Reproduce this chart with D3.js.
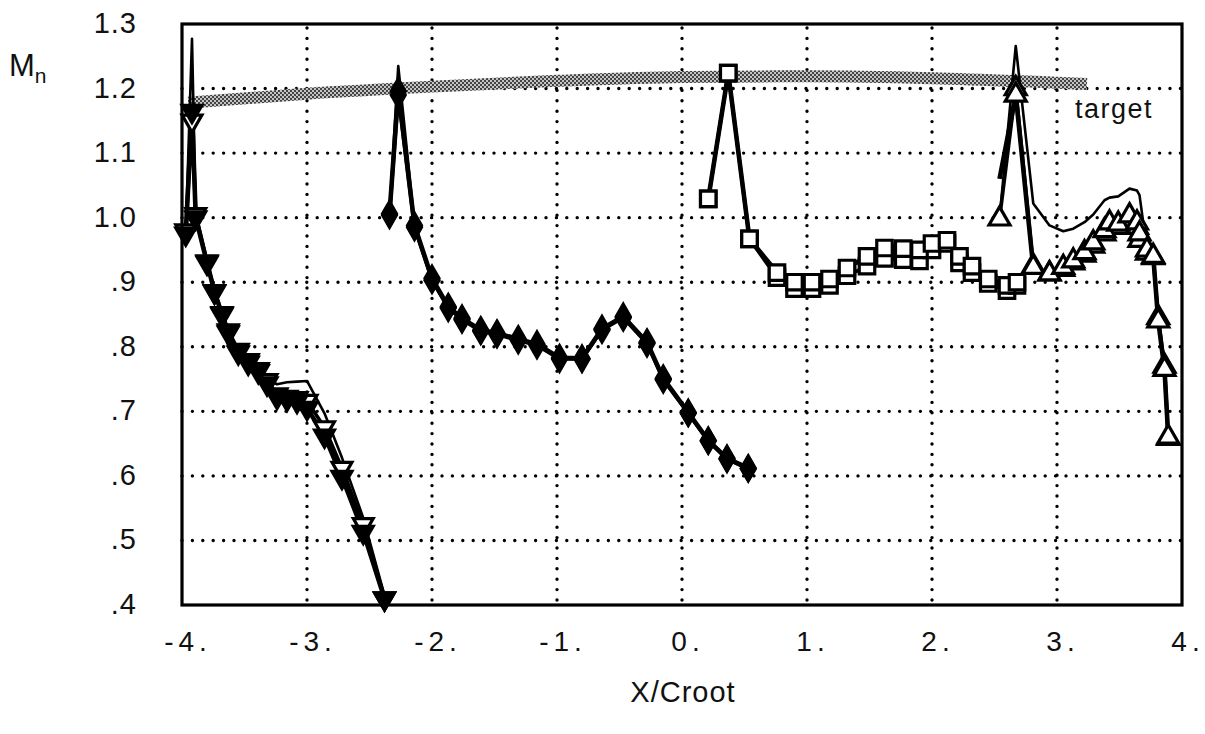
<!DOCTYPE html>
<html>
<head>
<meta charset="utf-8">
<script src="https://cdn.jsdelivr.net/npm/d3@7/dist/d3.min.js"></script>
<style>
  html, body { margin: 0; padding: 0; background: #fff; }
  svg { display: block; }
  text { font-family: "Liberation Sans", Arial, Helvetica, sans-serif; fill: #111; }
</style>
</head>
<body>
<svg id="chart" width="1205" height="734"></svg>
<script>
// ---- tick data ----
const xTicks = [-4, -3, -2, -1, 0, 1, 2, 3, 4];
const xTickLabels = ["-4.", "-3.", "-2.", "-1.", "0.", "1.", "2.", "3.", "4."];
const yTicks = [0.4, 0.5, 0.6, 0.7, 0.8, 0.9, 1.0, 1.1, 1.2, 1.3];
const yTickLabels = [".4", ".5", ".6", ".7", ".8", ".9", "1.0", "1.1", "1.2", "1.3"];
const xGrid = [-3, -2, -1, 0, 1, 2, 3];
const yGrid = [0.5, 0.6, 0.7, 0.8, 0.9, 1.0, 1.1, 1.2];

// ---- target band ----
const targetX = [-3.95, -3, -2, -1, 0, 1, 2, 3, 3.24];
const targetM = [1.178, 1.192, 1.203, 1.212, 1.218, 1.219, 1.216, 1.209, 1.207];

// ---- section 1 (down triangles) ----
const s1X = [-3.97, -3.92, -3.89, -3.80, -3.74, -3.68, -3.63, -3.55, -3.47, -3.39, -3.32, -3.24, -3.16, -3.08, -3.0, -2.86, -2.72, -2.55, -2.38];
const s1A = [0.975, 1.165, 1.0, 0.93, 0.885, 0.85, 0.822, 0.791, 0.775, 0.762, 0.743, 0.722, 0.719, 0.716, 0.705, 0.662, 0.598, 0.513, 0.41];
const s1B = [0.98, 1.15, 1.005, 0.932, 0.886, 0.852, 0.825, 0.795, 0.779, 0.765, 0.748, 0.726, 0.722, 0.72, 0.716, 0.675, 0.612, 0.525, 0.41];
const s1C = [0.975, 1.277, 1.0, 0.93, 0.885, 0.85, 0.822, 0.793, 0.778, 0.766, 0.75, 0.742, 0.745, 0.746, 0.747, 0.697, 0.628, 0.535, 0.415];

// ---- section 2 (diamonds) ----
const s2X = [-2.34, -2.27, -2.14, -2.0, -1.87, -1.76, -1.61, -1.48, -1.31, -1.16, -0.98, -0.8, -0.64, -0.47, -0.28, -0.15, 0.05, 0.21, 0.36, 0.53];
const s2A = [1.006, 1.196, 0.988, 0.906, 0.862, 0.844, 0.826, 0.821, 0.812, 0.804, 0.783, 0.782, 0.828, 0.847, 0.807, 0.751, 0.698, 0.655, 0.627, 0.612];
const s2B = [1.004, 1.19, 0.985, 0.903, 0.86, 0.842, 0.824, 0.819, 0.81, 0.802, 0.781, 0.781, 0.826, 0.845, 0.805, 0.749, 0.697, 0.654, 0.626, 0.611];
const s2C = [1.006, 1.235, 0.99, 0.906, 0.862, 0.844, 0.826, 0.821, 0.812, 0.804, 0.783, 0.782, 0.828, 0.848, 0.808, 0.752, 0.699, 0.656, 0.628, 0.613];

// ---- section 3 (squares) ----
const s3X = [0.21, 0.37, 0.54, 0.76, 0.9, 1.04, 1.18, 1.32, 1.48, 1.62, 1.77, 1.9, 2.0, 2.12, 2.22, 2.32, 2.45, 2.6, 2.68];
const s3A = [1.029, 1.224, 0.967, 0.915, 0.9, 0.9, 0.905, 0.922, 0.94, 0.953, 0.952, 0.95, 0.96, 0.965, 0.94, 0.925, 0.905, 0.895, 0.9];
const s3B = [1.029, 1.224, 0.967, 0.907, 0.89, 0.89, 0.895, 0.91, 0.925, 0.937, 0.935, 0.933, 0.95, 0.96, 0.93, 0.915, 0.898, 0.887, 0.895];
const s3C = [1.029, 1.224, 0.967, 0.912, 0.896, 0.896, 0.902, 0.918, 0.945, 0.958, 0.957, 0.956, 0.965, 0.968, 0.945, 0.928, 0.905, 0.893, 0.9];

// ---- section 4 (up triangles) ----
const s4X = [2.54, 2.67, 2.81, 2.94, 3.05, 3.13, 3.22, 3.29, 3.38, 3.42, 3.49, 3.58, 3.64, 3.66, 3.72, 3.77, 3.81, 3.86, 3.89];
const s4A = [1.06, 1.19, 0.923, 0.913, 0.923, 0.933, 0.946, 0.961, 0.98, 0.992, 0.99, 1.003, 0.992, 0.975, 0.95, 0.94, 0.84, 0.765, 0.66];
const s4B = [0.998, 1.2, 0.925, 0.913, 0.92, 0.93, 0.942, 0.956, 0.975, 0.985, 0.985, 0.995, 0.985, 0.965, 0.945, 0.938, 0.845, 0.77, 0.658];
const s4C = [0.998, 1.266, 1.022, 0.988, 0.979, 0.983, 0.993, 1.005, 1.027, 1.031, 1.033, 1.045, 1.042, 1.035, 0.95, 0.94, 0.84, 0.765, 0.66];

// ---- layout ----
const svg = d3.select("#chart");
const L = 182, R = 1182, T = 24, B = 605;
const x = d3.scaleLinear().domain([-4, 4]).range([L, R]);
const y = d3.scaleLinear().domain([0.4, 1.3]).range([B, T]);

// stipple pattern for target band
const defs = svg.append("defs");
const pat = defs.append("pattern").attr("id", "stip").attr("patternUnits", "userSpaceOnUse")
  .attr("width", 4).attr("height", 4);
pat.append("rect").attr("width", 4).attr("height", 4).attr("fill", "#c4c4c4");
pat.append("rect").attr("x", 0).attr("y", 0).attr("width", 2).attr("height", 2).attr("fill", "#444");
pat.append("rect").attr("x", 2).attr("y", 2).attr("width", 2).attr("height", 2).attr("fill", "#444");

// gridlines (dotted)
const grid = svg.append("g");
grid.selectAll("line.h").data(yGrid).join("line")
  .attr("x1", L).attr("x2", R).attr("y1", d => y(d)).attr("y2", d => y(d))
  .attr("stroke", "#000").attr("stroke-width", 3.4).attr("stroke-linecap", "round")
  .attr("stroke-dasharray", "0,10.4");
grid.selectAll("line.v").data(xGrid).join("line")
  .attr("y1", T + 4).attr("y2", B).attr("x1", d => x(d)).attr("x2", d => x(d))
  .attr("stroke", "#000").attr("stroke-width", 3.4).attr("stroke-linecap", "round")
  .attr("stroke-dasharray", "0,10.4");

// target band
const tgt = targetX.map((v, i) => [v, targetM[i]]);
svg.append("path").attr("d", d3.line().x(d => x(d[0])).y(d => y(d[1])).curve(d3.curveMonotoneX)(tgt))
  .attr("fill", "none").attr("stroke", "url(#stip)").attr("stroke-width", 12);

// series
const line = d3.line().x(d => x(d[0])).y(d => y(d[1]));
function pts(xs, ys) { return xs.map((v, i) => [v, ys[i], i]); }

const sections = [
  { xs: s1X, A: s1A, B: s1B, C: s1C, sym: d3.symbolTriangle, rot: 180, size: 170, aFill: "#000", skipA: [] },
  { xs: s2X, A: s2A, B: s2B, C: s2C, sym: d3.symbolDiamond, rot: 0, size: 170, aFill: "#000", skipA: [] },
  { xs: s3X, A: s3A, B: s3B, C: s3C, sym: d3.symbolSquare, rot: 0, size: 240, aFill: "#fff", skipA: [] },
  { xs: s4X, A: s4A, B: s4B, C: s4C, sym: d3.symbolTriangle, rot: 0, size: 190, aFill: "#fff", skipA: [0] }
];

const gLines = svg.append("g");
const gMarks = svg.append("g");
sections.forEach(s => {
  gLines.append("path").attr("d", line(pts(s.xs, s.C)))
    .attr("fill", "none").attr("stroke", "#000").attr("stroke-width", 2.6).attr("stroke-linejoin", "round");
  gLines.append("path").attr("d", line(pts(s.xs, s.B)))
    .attr("fill", "none").attr("stroke", "#000").attr("stroke-width", 3.6).attr("stroke-linejoin", "round");
  gLines.append("path").attr("d", line(pts(s.xs, s.A)))
    .attr("fill", "none").attr("stroke", "#000").attr("stroke-width", 4.6).attr("stroke-linejoin", "round");
  const symPath = d3.symbol().type(s.sym).size(s.size)();
  gMarks.selectAll(null).data(pts(s.xs, s.B)).join("path")
    .attr("d", symPath)
    .attr("transform", d => `translate(${x(d[0])},${y(d[1])}) rotate(${s.rot})`)
    .attr("fill", "#fff").attr("stroke", "#000").attr("stroke-width", 3.2);
  gMarks.selectAll(null).data(pts(s.xs, s.A).filter(d => !s.skipA.includes(d[2]))).join("path")
    .attr("d", symPath)
    .attr("transform", d => `translate(${x(d[0])},${y(d[1])}) rotate(${s.rot})`)
    .attr("fill", s.aFill).attr("stroke", "#000").attr("stroke-width", 3.2);
});

// frame
svg.append("rect").attr("x", L).attr("y", T).attr("width", R - L).attr("height", B - T)
  .attr("fill", "none").attr("stroke", "#000").attr("stroke-width", 3.2);

// tick labels
svg.append("g").selectAll("text").data(xTicks).join("text")
  .attr("x", d => x(d) + 6).attr("y", 651)
  .attr("text-anchor", "middle").attr("font-size", 28).attr("letter-spacing", 5)
  .text((d, i) => xTickLabels[i]);
svg.append("g").selectAll("text").data(yTicks).join("text")
  .attr("x", 137).attr("y", d => y(d) + 9)
  .attr("text-anchor", "end").attr("font-size", 29).attr("letter-spacing", 1)
  .text((d, i) => yTickLabels[i]);

// axis titles
const mt = svg.append("text").attr("x", 9).attr("y", 76).attr("font-size", 31);
mt.append("tspan").text("M");
mt.append("tspan").attr("font-size", 21).attr("dy", 7).text("n");
svg.append("text").attr("x", 683).attr("y", 702).attr("text-anchor", "middle")
  .attr("font-size", 29).attr("letter-spacing", 1).text("X/Croot");

// target label
svg.append("text").attr("x", 1075).attr("y", 118).attr("font-size", 27).attr("letter-spacing", 1.5).text("target");
</script>
</body>
</html>
